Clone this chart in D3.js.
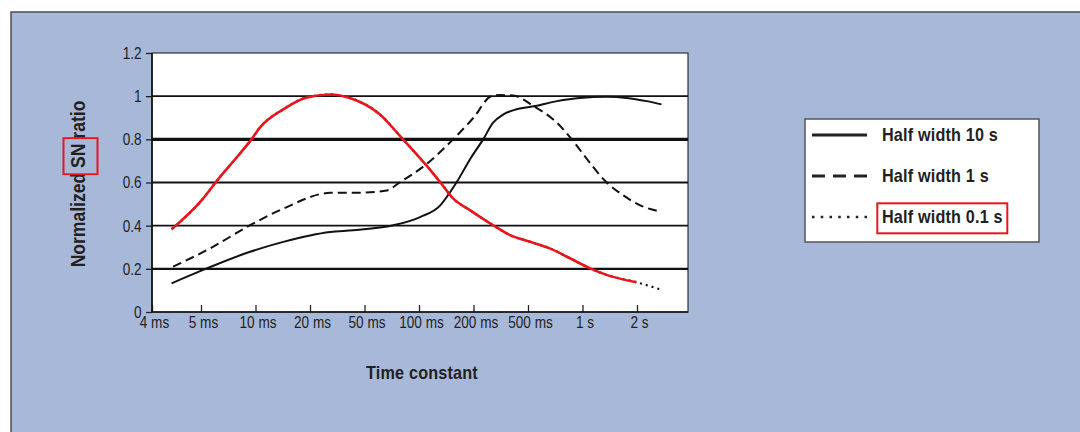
<!DOCTYPE html>
<html><head><meta charset="utf-8">
<script src="https://cdn.jsdelivr.net/npm/d3@7"></script>
<style>
html,body{margin:0;padding:0;background:#fff;}
svg{display:block;}
text{font-family:"Liberation Sans",Arial,sans-serif;}
</style></head><body>
<svg id="c" width="1080" height="432"></svg>
<script>
// ---- data ----
const tickLabels = ["4 ms","5 ms","10 ms","20 ms","50 ms","100 ms","200 ms","500 ms","1 s","2 s"];
const yTicks = [0, 0.2, 0.4, 0.6, 0.8, 1, 1.2];
const gridValues = [0.2, 0.4, 0.6, 0.8, 1];
const seriesNames = ["Half width 10 s", "Half width 1 s", "Half width 0.1 s"];
// x positions are measured in tick steps (0 = 4 ms, 1 = 5 ms, ... 9 = 2 s)
const hw10X = [0.40,1.04,1.90,2.51,3.37,3.79,4.53,5.02,5.39,5.57,5.69,5.94,6.18,6.36,6.55,6.79,7.13,7.53,7.95,8.44,8.81,9.18,9.45];
const hw10Y = [0.133,0.195,0.279,0.325,0.371,0.379,0.402,0.44,0.494,0.555,0.601,0.709,0.801,0.877,0.916,0.939,0.954,0.977,0.992,0.997,0.992,0.977,0.962];
const hw1X = [0.43,1.17,1.90,2.51,3.37,3.98,4.41,4.65,5.14,5.63,6.00,6.33,6.49,6.73,7.10,7.53,7.80,8.08,8.44,8.75,9.06,9.42];
const hw1Y = [0.21,0.295,0.402,0.479,0.552,0.553,0.563,0.601,0.686,0.801,0.900,1.0,1.005,1.003,0.954,0.877,0.801,0.709,0.601,0.540,0.494,0.466];
const hw01X = [0.40,1.01,1.32,1.68,1.93,2.08,2.51,2.91,3.37,3.73,4.28,4.65,4.87,5.14,5.39,5.63,5.94,6.36,6.67,7.04,7.40,7.77,8.14,8.44,8.99,9.45];
const hw01Y = [0.383,0.517,0.617,0.724,0.801,0.854,0.939,0.992,1.008,0.992,0.916,0.816,0.755,0.678,0.601,0.525,0.471,0.402,0.356,0.325,0.295,0.249,0.202,0.172,0.138,0.103];
const highlightUpTo = 9; // red highlight of the 0.1 s curve ends at 2 s

// ---- layout ----
const svg = d3.select("#c");
const plotL = 152, plotR = 688, plotB = 312, plotT = 53;
const x = d3.scaleLinear().domain([0, 1, 9]).range([152, 201, 637]);
const y = d3.scaleLinear().domain([0, 1.2]).range([plotB, plotT]);
const INK = "#231f20";

// condense a text horizontally around its anchor point
function condense(sel, k) {
  sel.each(function () {
    const t = d3.select(this);
    const x0 = +t.attr("x") || 0;
    t.attr("x", x0 / k).attr("transform", `scale(${k},1)`);
  });
}

// panel
svg.append("rect").attr("x", 11).attr("y", 12).attr("width", 1080).attr("height", 430)
  .attr("fill", "#a8b8d9").attr("stroke", "#4d4d4d").attr("stroke-width", 1.5);

// plot area
svg.append("rect").attr("x", plotL).attr("y", plotT).attr("width", plotR - plotL).attr("height", plotB - plotT)
  .attr("fill", "#fff").attr("stroke", "#333").attr("stroke-width", 1.2);

// gridlines
const gw = {0.2: 2.4, 0.4: 1.8, 0.6: 1.8, 0.8: 3.2, 1: 1.8};
svg.append("g").selectAll("line").data(gridValues).join("line")
  .attr("x1", plotL).attr("x2", plotR).attr("y1", d => y(d)).attr("y2", d => y(d))
  .attr("stroke", "#111").attr("stroke-width", d => gw[d]);

// axes
const yAxis = d3.axisLeft(y).tickValues(yTicks).tickSizeInner(6).tickSizeOuter(0).tickPadding(4.5)
  .tickFormat(d => d === 0 ? "0" : d === 1 ? "1" : d3.format(".1f")(d));
const gy = svg.append("g").attr("transform", `translate(${plotL},0)`).call(yAxis);
gy.select(".domain").remove();
gy.selectAll("line").attr("stroke", "#222").attr("stroke-width", 1.3);
gy.selectAll("text").attr("font-size", 17).attr("fill", INK).attr("font-family", "Liberation Sans, Arial, sans-serif");
condense(gy.selectAll("text"), 0.8);

const xAxis = d3.axisBottom(x).tickValues(d3.range(tickLabels.length)).tickFormat(i => tickLabels[i])
  .tickSizeInner(-7).tickSizeOuter(0).tickPadding(4);
const gx = svg.append("g").attr("transform", `translate(0,${plotB})`).call(xAxis);
gx.select(".domain").remove();
gx.selectAll("line").attr("stroke", "#222").attr("stroke-width", 1.3);
gx.selectAll("text").attr("font-size", 17).attr("fill", INK).attr("dy", "0.71em").attr("font-family", "Liberation Sans, Arial, sans-serif")
  .attr("x", 2);
condense(gx.selectAll("text"), 0.8);

// axis lines
svg.append("line").attr("x1", plotL).attr("x2", plotL).attr("y1", plotT).attr("y2", plotB).attr("stroke", "#111").attr("stroke-width", 1.6);
svg.append("line").attr("x1", plotL).attr("x2", plotR).attr("y1", plotB).attr("y2", plotB).attr("stroke", "#111").attr("stroke-width", 1.6);

// curves
const line = d3.line().x(d => x(d[0])).y(d => y(d[1])).curve(d3.curveMonotoneX);
const zip = (a, b) => a.map((v, i) => [v, b[i]]);
const s10 = zip(hw10X, hw10Y), s1 = zip(hw1X, hw1Y), s01 = zip(hw01X, hw01Y);

svg.append("path").attr("d", line(s10)).attr("fill", "none").attr("stroke", "#111").attr("stroke-width", 2);
svg.append("path").attr("d", line(s1)).attr("fill", "none").attr("stroke", "#111").attr("stroke-width", 2)
  .attr("stroke-dasharray", "9,5");
svg.append("path").attr("d", line(s01)).attr("fill", "none").attr("stroke", "#111").attr("stroke-width", 2.2)
  .attr("stroke-dasharray", "2,4");
svg.append("path").attr("d", line(s01.filter(d => d[0] <= highlightUpTo))).attr("fill", "none")
  .attr("stroke", "#e8161c").attr("stroke-width", 2.6).attr("stroke-linejoin", "round");

// axis titles
const xt = svg.append("text").attr("x", 422).attr("y", 379).attr("text-anchor", "middle")
  .attr("font-size", 18).attr("font-weight", "bold").attr("letter-spacing", 0.2).attr("fill", INK)
  .text("Time constant");
condense(xt, 0.9);

const yt = svg.append("g").attr("transform", "translate(85,184) rotate(-90) scale(0.9,1)");
const ytText = yt.append("text").attr("x", 0).attr("y", 0).attr("text-anchor", "middle")
  .attr("font-size", 19.5).attr("font-weight", "bold").attr("fill", INK)
  .text("Normalized SN ratio");
{
  const node = ytText.node();
  const L = node.getComputedTextLength();
  const pre = node.getSubStringLength(0, 11);
  const sn = node.getSubStringLength(11, 2);
  const s = -L / 2 + pre;
  yt.append("rect").attr("x", s - 7).attr("y", -21.5).attr("width", sn + 13).attr("height", 34)
    .attr("fill", "none").attr("stroke", "#e8161c").attr("stroke-width", 2);
}

// legend
const lg = svg.append("g");
lg.append("rect").attr("x", 805).attr("y", 119).attr("width", 234).attr("height", 123)
  .attr("fill", "#fff").attr("stroke", "#555").attr("stroke-width", 1.5);
const legRows = [135, 176, 217];
const dash = ["none", "13,8", "2.5,6.25"];
seriesNames.forEach((n, i) => {
  lg.append("line").attr("x1", 812).attr("x2", 867).attr("y1", legRows[i]).attr("y2", legRows[i])
    .attr("stroke", "#222").attr("stroke-width", i === 2 ? 2.5 : 3).attr("stroke-dasharray", dash[i]);
  const t = lg.append("text").attr("x", 882).attr("y", legRows[i]).attr("dy", "0.36em")
    .attr("font-size", 18).attr("font-weight", "bold").attr("letter-spacing", 0.2).attr("fill", INK).text(n);
  condense(t, 0.9);
});
lg.append("rect").attr("x", 877.3).attr("y", 203.3).attr("width", 130).attr("height", 30)
  .attr("fill", "none").attr("stroke", "#e8161c").attr("stroke-width", 2);
</script>
</body></html>
